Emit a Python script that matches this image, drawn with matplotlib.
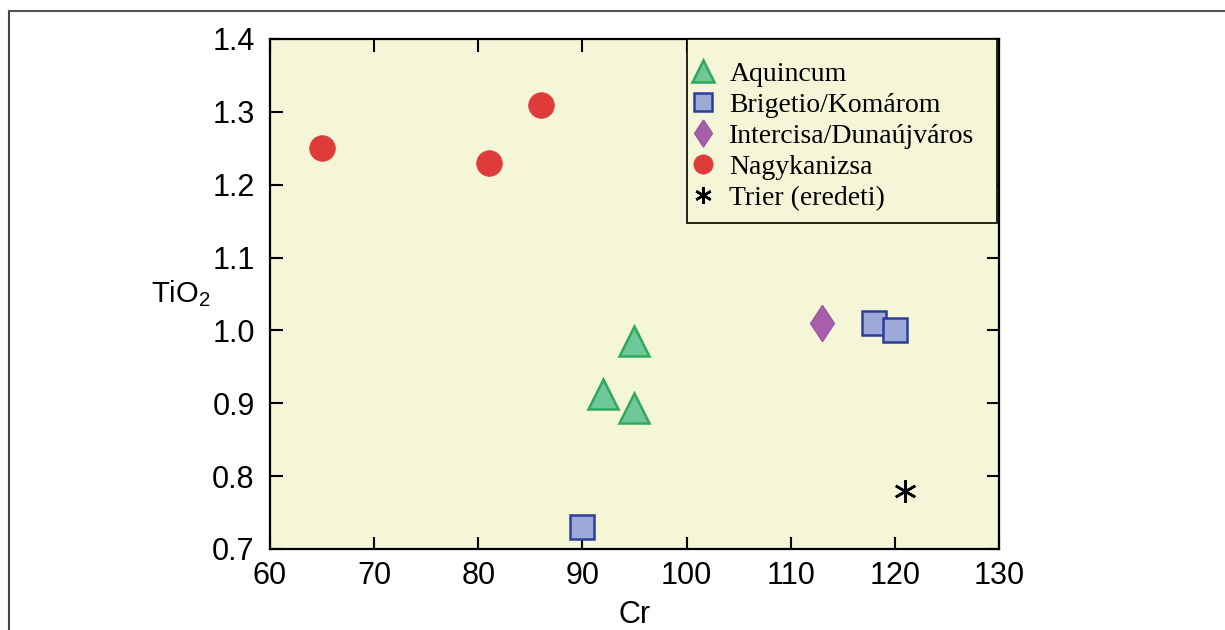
import matplotlib
matplotlib.use('Agg')
import matplotlib.pyplot as plt
from matplotlib.lines import Line2D
from matplotlib.patches import Rectangle

plt.rcParams['mathtext.fontset'] = 'custom'
plt.rcParams['mathtext.rm'] = 'Liberation Sans'
plt.rcParams['mathtext.it'] = 'Liberation Sans'

# TiO2 vs Cr by site
aquincumCr = [95, 92, 95]
aquincumTi = [0.985, 0.913, 0.893]
brigetioCr = [90, 118, 120]
brigetioTi = [0.73, 1.01, 1.0]
intercisaCr = [113]
intercisaTi = [1.01]
nagykanizsaCr = [65, 81, 86]
nagykanizsaTi = [1.25, 1.23, 1.31]
trierCr = [121]
trierTi = [0.78]

BG = '#F5F5D8'
DIAMOND = [(0, 1), (0.66, 0), (0, -1), (-0.66, 0), (0, 1)]

fig = plt.figure(figsize=(12.25, 6.3), dpi=100)
ax = fig.add_axes([0.2204, 0.1286, 0.5951, 0.8095])
ax.set_facecolor(BG)

ax.plot(aquincumCr, aquincumTi, linestyle='None', marker='^', markersize=21,
        markerfacecolor='#70C79A', markeredgecolor='#2EAA5C', markeredgewidth=1.8, label='Aquincum')
ax.plot(brigetioCr, brigetioTi, linestyle='None', marker='s', markersize=17,
        markerfacecolor='#9DAAD8', markeredgecolor='#2C3E9C', markeredgewidth=1.8, label='Brigetio/Komárom')
ax.plot(intercisaCr, intercisaTi, linestyle='None', marker=DIAMOND, markersize=26,
        markerfacecolor='#A85EAC', markeredgecolor='#9B58A0', markeredgewidth=1.0, label='Intercisa/Dunaújváros')
ax.plot(nagykanizsaCr, nagykanizsaTi, linestyle='None', marker='o', markersize=18.5,
        markerfacecolor='#E03B3B', markeredgecolor='#E03B3B', markeredgewidth=0.5, label='Nagykanizsa')
ax.plot(trierCr, trierTi, linestyle='None', marker=(6, 2, 0), markersize=16,
        color='black', markeredgewidth=1.8, label='Trier (eredeti)')

ax.set_xlim(60, 130)
ax.set_ylim(0.7, 1.4)
ax.set_xticks(range(60, 131, 10))
ax.set_yticks([0.7, 0.8, 0.9, 1.0, 1.1, 1.2, 1.3, 1.4])
ax.set_yticklabels(['0.7', '0.8', '0.9', '1.0', '1.1', '1.2', '1.3', '1.4'])

for s in ax.spines.values():
    s.set_linewidth(1.6)
ax.tick_params(axis='both', direction='in', length=9, width=1.5, top=True, right=True,
               labelsize=22)
ax.tick_params(axis='x', pad=9)
ax.tick_params(axis='y', pad=11)
for lbl in ax.get_xticklabels() + ax.get_yticklabels():
    lbl.set_fontfamily('Liberation Sans')

ax.set_xlabel('Cr', fontsize=22, family='Liberation Sans', labelpad=6)
ax.text(-0.122, 0.50, 'TiO$_2$', transform=ax.transAxes, fontsize=21,
        family='Liberation Sans', ha='center', va='center')

# legend without frame, box drawn separately so the padding can differ per side
leg = ax.legend(loc='upper left', bbox_to_anchor=(0.575, 0.956), borderaxespad=0,
                frameon=False, prop={'family': 'Liberation Serif', 'size': 20},
                handletextpad=0.45, labelspacing=0.2, handlelength=1.0, borderpad=0,
                markerscale=0.75)
leg.set_zorder(5)
ax.add_patch(Rectangle((0.572, 0.639), 0.425, 0.361, transform=ax.transAxes,
                       facecolor=BG, edgecolor='black', linewidth=1.2, zorder=4, clip_on=False))

# outer frame (top and left edge only)
fig.add_artist(Line2D([0.0073, 0.0073], [0, 0.9833], transform=fig.transFigure, color='#444444', linewidth=1.5))
fig.add_artist(Line2D([0.0073, 1.0], [0.9833, 0.9833], transform=fig.transFigure, color='#555555', linewidth=1.5))

fig.savefig('out.png', dpi=100)
